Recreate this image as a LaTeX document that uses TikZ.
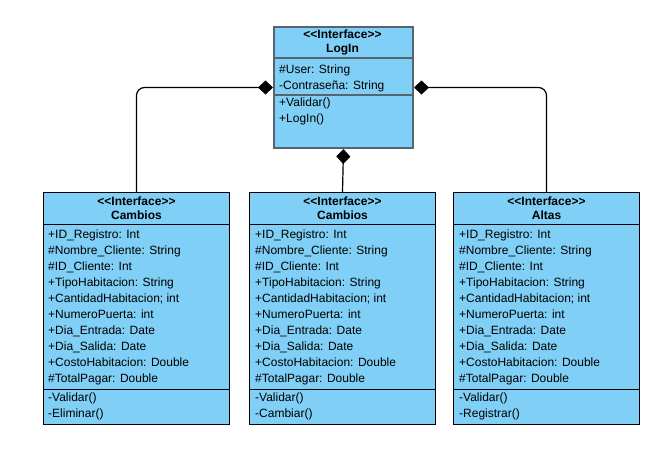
\documentclass[tikz,border=0pt]{standalone}
\usepackage{fontspec}
\newfontfamily\umlfont{Liberation Sans}
\usetikzlibrary{arrows.meta}
\definecolor{umlfill}{HTML}{7FCFF6}
\definecolor{umledge}{HTML}{56646F}

\tikzset{
	umlbox/.style={draw=black, line width=1pt, fill=umlfill, anchor=north west,
		minimum width=186pt, minimum height=232pt, inner sep=0pt},
	umlhead/.style={font=\umlfont\bfseries\fontsize{12}{14}\selectfont, align=center, inner sep=0pt},
	umlrow/.style={font=\umlfont\fontsize{12}{14}\selectfont, anchor=west, inner sep=0pt,
		text height=9pt, text depth=3pt},
	comp/.style={{Diamond[length=15pt,width=14pt]}-, line width=1.2pt, rounded corners=8pt},
}

\begin{document}
\begin{tikzpicture}[x=1pt,y=-1pt]
		\useasboundingbox (0,0) rectangle (660,453);
		% interface on top
		\node[umlbox, draw=umledge, line width=2pt, minimum width=139pt, minimum height=121pt] (login) at (273,26) {};
		\draw[umledge, line width=2pt] (login.west |- 0,58) -- (login.east |- 0,58);
		\draw[umledge, line width=2pt] (login.west |- 0,95) -- (login.east |- 0,95);
		\node[umlhead] (login-head) at (342.5,42.5) {<<Interface>>\\LogIn};
		\node[umlrow] (login-a1) at (279,70) {\#User: String};
		\node[umlrow] (login-a2) at (279,86) {-Contraseña: String};
		\node[umlrow] (login-m1) at (279,103) {+Validar()};
		\node[umlrow] (login-m2) at (279,119) {+LogIn()};
		%
		% lower interfaces
		\node[umlbox] (cambiosA) at (43,192) {};
		\node[umlbox] (cambiosB) at (249,192) {};
		\node[umlbox] (altas) at (453,192) {};
		\foreach \bx/\tx/\nm/\mm in {cambiosA/48/Cambios/Eliminar, cambiosB/255/Cambios/Cambiar, altas/459/Altas/Registrar}{
			\draw (\bx.west |- 0,224) -- (\bx.east |- 0,224);
			\draw (\bx.west |- 0,389) -- (\bx.east |- 0,389);
			\node[umlhead] (\bx-head) at ([yshift=-16.5pt]\bx.north) {<<Interface>>\\\nm};
			\foreach \attr [count=\i] in {+ID\_Registro: Int, \#Nombre\_Cliente: String, \#ID\_Cliente: Int,
				+TipoHabitacion: String, +CantidadHabitacion; int, +NumeroPuerta: int, +Dia\_Entrada: Date,
				+Dia\_Salida: Date, +CostoHabitacion: Double, \#TotalPagar: Double}
				\node[umlrow] (\bx-a\i) at (\tx,{235.5+16*(\i-1)}) {\attr};
			\node[umlrow] (\bx-m1) at (\tx,398.5) {-Validar()};
			\node[umlrow] (\bx-m2) at (\tx,414) {-\mm()};
		}
		%
		% composition links
		\draw[comp] (login.west) -| (cambiosA.north);
		\draw[comp] (login.east) -| (altas.north);
		\draw[comp] (login.south) -- (cambiosB.north);
\end{tikzpicture}
\end{document}
